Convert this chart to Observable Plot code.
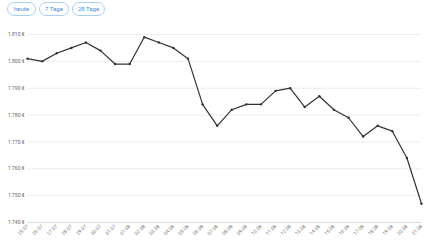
<!DOCTYPE html>
<html><head><meta charset="utf-8">
<script src="https://cdn.jsdelivr.net/npm/d3@7"></script>
<script src="https://cdn.jsdelivr.net/npm/@observablehq/plot@0.6"></script>
<style>
html,body{margin:0;padding:0;background:#fff;font-family:Roboto,"Open Sans",sans-serif;}
#btns{height:20px;position:relative;}
.b{position:absolute;top:2px;height:12px;border:1px solid #a9d0f3;border-radius:8px;color:#3d8ee0;font-size:6px;line-height:12px;text-align:center;box-sizing:content-box;}
#chart svg{display:block;}
</style></head><body>
<div id="btns"></div>
<div id="chart"></div>
<script>
const buttons = ["heute", "7 Tage", "28 Tage"];
const dates = ["25.07","26.07","27.07","28.07","29.07","30.07","31.07","01.08","02.08","03.08","04.08","05.08","06.08","07.08","08.08","09.08","10.08","11.08","12.08","13.08","14.08","15.08","16.08","17.08","18.08","19.08","20.08","21.08"];
const prices = [1801,1800,1803,1805,1807,1804,1799,1799,1809,1807,1805,1801,1784,1776,1782,1784,1784,1789,1790,1783,1787,1782,1779,1772,1776,1774,1764,1747];
const yTicks = [1740,1750,1760,1770,1780,1790,1800,1810];

const btnPos = [[7,27],[39,28],[72,31]];
const bd = document.getElementById("btns");
buttons.forEach((t,i)=>{const e=document.createElement("div");e.className="b";e.textContent=t;e.style.left=btnPos[i][0]+"px";e.style.width=btnPos[i][1]+"px";bd.appendChild(e);});

const de = d3.formatLocale({decimal:",",thousands:".",grouping:[3],currency:["",""]});
const fmt = de.format(",");
const data = dates.map((d,i)=>({i, date:d, price:prices[i]}));

const plot = Plot.plot({
  width:430, height:221,
  marginLeft:27, marginRight:9, marginTop:14, marginBottom:19,
  style:{fontFamily:"Roboto, sans-serif", background:"#fff"},
  x:{type:"linear", domain:[0, dates.length-1], label:null},
  y:{domain:[1740,1810], label:null},
  marks:[
    Plot.ruleY(yTicks.filter(v=>v>1740), {stroke:"#ececec", strokeWidth:1}),
    Plot.ruleY([1740], {stroke:"#dcdcdc", strokeWidth:1}),
    Plot.axisY({ticks:yTicks, tickSize:0, tickPadding:3, fontSize:5, tickFormat:d=>fmt(d)+" €", color:"#666", label:null}),
    Plot.axisX({ticks:d3.range(dates.length), tickFormat:i=>dates[i], tickSize:0, tickPadding:3, tickRotate:-45, fontSize:5, color:"#777", label:null}),
    Plot.line(data, {x:"i", y:"price", stroke:"#333", strokeWidth:1.2}),
    Plot.dot(data, {x:"i", y:"price", r:1.2, fill:"#333", stroke:null})
  ]
});
document.getElementById("chart").appendChild(plot);
</script>
</body></html>
